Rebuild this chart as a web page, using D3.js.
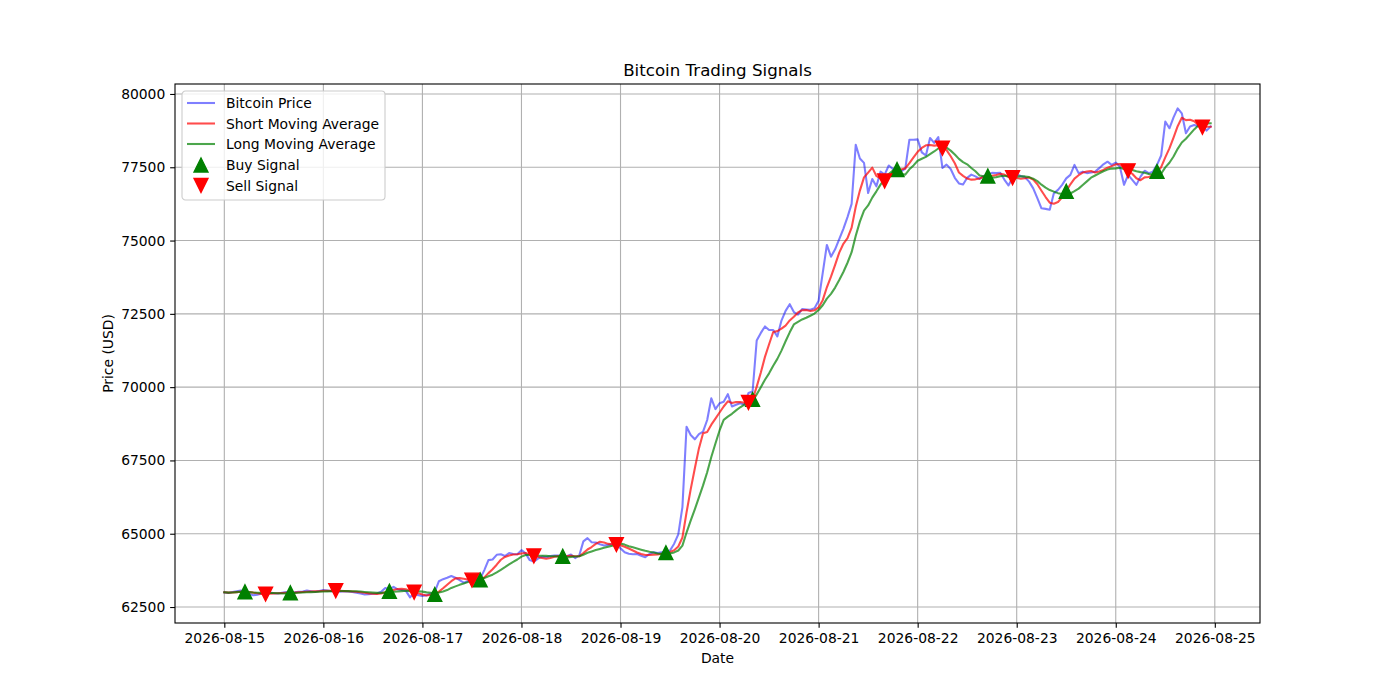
<!DOCTYPE html>
<html><head><meta charset="utf-8">
<script src="https://cdn.jsdelivr.net/npm/d3@7"></script>
<style>
body{margin:0;background:#fff;}
text{font-family:"DejaVu Sans","Liberation Sans",sans-serif;fill:#000;}
</style>
</head><body>
<svg id="chart" width="1400" height="700"></svg>
<script>
// ---------- data ----------
const startDate = "2026-08-15T00:00:00Z";   // hourly observations
const prices = [
63000,62980,63010,63040,63060,63010,62950,62900,62920,62960,
62980,62990,62970,62960,62990,63010,62990,63000,63020,63030,
63060,63040,63020,63050,63080,63060,63040,63050,63020,63040,
63030,63010,62990,62960,62930,62940,62950,62960,63020,63150,
63100,63190,63100,63080,63050,62830,62970,62900,62880,62900,
62950,63020,63380,63450,63500,63560,63500,63420,63330,63380,
63460,63500,63460,63760,64100,64120,64280,64300,64240,64340,
64310,64300,64440,64330,64100,64050,64150,64220,64200,64240,
64260,64260,64200,64230,64290,64170,64260,64740,64850,64710,
64700,64640,64600,64620,64640,64660,64500,64370,64320,64300,
64310,64250,64200,64310,64370,64340,64370,64380,64430,64660,
64980,65910,68650,68370,68220,68400,68480,68880,69620,69250,
69450,69500,69760,69340,69400,69450,69400,69800,69850,71590,
71850,72070,71950,71950,71730,72270,72600,72830,72560,72470,
72660,72650,72640,72690,72950,73900,74850,74450,74700,75050,
75400,75800,76250,78270,77800,77650,76620,77100,76850,77350,
77250,77560,77440,77500,77360,77450,78440,78440,78450,78010,
77900,78500,78330,78530,77480,77590,77440,77140,76950,76910,
77140,77250,77190,77100,77200,77250,77310,77300,77310,77080,
76880,77140,77250,77200,77160,77010,76780,76450,76100,76080,
76050,76610,76730,76900,77120,77240,77580,77300,77350,77300,
77320,77350,77470,77600,77690,77580,77660,77520,76900,77240,
77070,76900,77180,77380,77300,77350,77580,77900,79060,78830,
79200,79510,79340,78660,78890,78940,78900,78940,78750,78890
];
const shortWindow = 5;
const longWindow = 10;
const buyIndex  = [5,16,40,51,62,82,107,128,163,185,204,226];
const sellIndex = [10,27,46,60,75,95,127,160,174,191,219,237];
const xTickLabels = ["2026-08-15","2026-08-16","2026-08-17","2026-08-18","2026-08-19","2026-08-20","2026-08-21","2026-08-22","2026-08-23","2026-08-24","2026-08-25"];
const yTicks = [62500,65000,67500,70000,72500,75000,77500,80000];
const seriesNames = ["Bitcoin Price","Short Moving Average","Long Moving Average","Buy Signal","Sell Signal"];

// ---------- derived ----------
const t0 = new Date(startDate);
const dates = prices.map((_, i) => d3.utcHour.offset(t0, i));
function rollingMean(arr, w){
  return arr.map((_, i) => d3.mean(arr.slice(Math.max(0, i - w + 1), i + 1)));
}
const shortMA = rollingMean(prices, shortWindow);
const longMA = rollingMean(prices, longWindow);

// ---------- layout ----------
const W = 1400, H = 700;
const m = {left:175, right:140, top:84, bottom:77};
const iw = W - m.left - m.right, ih = H - m.top - m.bottom;
const fs = 13.89;

const svg = d3.select("#chart");
const g = svg.append("g").attr("transform", `translate(${m.left},${m.top})`);

const tExt = d3.extent(dates);
const span = tExt[1] - tExt[0];
const x = d3.scaleUtc()
  .domain([new Date(+tExt[0] - 0.05*span), new Date(+tExt[1] + 0.05*span)])
  .range([0, iw]);
const y = d3.scaleLinear().domain([61955, 80340]).range([ih, 0]);

const xTickDates = xTickLabels.map(s => new Date(s + "T00:00:00Z"));

// grid
const grid = g.append("g");
grid.selectAll("line.vx").data(xTickDates).join("line")
  .attr("x1", d => x(d)).attr("x2", d => x(d)).attr("y1", 0).attr("y2", ih)
  .attr("stroke", "#b0b0b0").attr("stroke-width", 1.1);
grid.selectAll("line.hy").data(yTicks).join("line")
  .attr("x1", 0).attr("x2", iw).attr("y1", d => y(d)).attr("y2", d => y(d))
  .attr("stroke", "#b0b0b0").attr("stroke-width", 1.1);

// lines
const clip = svg.append("defs").append("clipPath").attr("id","clipArea")
  .append("rect").attr("width", iw).attr("height", ih);
const plot = g.append("g").attr("clip-path","url(#clipArea)");
const lineGen = vals => d3.line().x((d, i) => x(dates[i])).y(d => y(d))(vals);

plot.append("path").attr("d", lineGen(prices)).attr("fill","none")
  .attr("stroke","#0000ff").attr("stroke-opacity",0.5).attr("stroke-width",2.08)
  .attr("stroke-linejoin","round").attr("stroke-linecap","square");
plot.append("path").attr("d", lineGen(shortMA)).attr("fill","none")
  .attr("stroke","#ff0000").attr("stroke-opacity",0.7).attr("stroke-width",2.08)
  .attr("stroke-linejoin","round").attr("stroke-linecap","square");
plot.append("path").attr("d", lineGen(longMA)).attr("fill","none")
  .attr("stroke","#008000").attr("stroke-opacity",0.7).attr("stroke-width",2.08)
  .attr("stroke-linejoin","round").attr("stroke-linecap","square");

// markers
const ms = 13.89, h2 = ms/2;
const upTri = `M0,${-h2}L${-h2},${h2}L${h2},${h2}Z`;
const downTri = `M0,${h2}L${-h2},${-h2}L${h2},${-h2}Z`;
g.selectAll("path.buy").data(buyIndex).join("path")
  .attr("d", upTri)
  .attr("transform", i => `translate(${x(dates[i])},${y(shortMA[i])})`)
  .attr("fill","#008000").attr("stroke","#008000").attr("stroke-width",1.39).attr("stroke-linejoin","miter");
g.selectAll("path.sell").data(sellIndex).join("path")
  .attr("d", downTri)
  .attr("transform", i => `translate(${x(dates[i])},${y(shortMA[i])})`)
  .attr("fill","#ff0000").attr("stroke","#ff0000").attr("stroke-width",1.39).attr("stroke-linejoin","miter");

// axes
const xAxis = d3.axisBottom(x).tickValues(xTickDates)
  .tickFormat((d, i) => xTickLabels[i]).tickSize(4.86).tickPadding(4.86).tickSizeOuter(0);
const yAxis = d3.axisLeft(y).tickValues(yTicks).tickFormat(d => String(d))
  .tickSize(4.86).tickPadding(4.86).tickSizeOuter(0);
const gx = g.append("g").attr("transform", `translate(0,${ih})`).call(xAxis);
const gy = g.append("g").call(yAxis);
[gx, gy].forEach(a => {
  a.select(".domain").remove();
  a.selectAll(".tick line").attr("stroke","#000").attr("stroke-width",1.1);
  a.selectAll(".tick text").attr("font-size", fs).attr("font-family","DejaVu Sans").attr("fill","#000");
});

// frame
g.append("rect").attr("width", iw).attr("height", ih)
  .attr("fill","none").attr("stroke","#000").attr("stroke-width",1.1);

// title & labels
svg.append("text").attr("x", m.left + iw/2).attr("y", 76).attr("text-anchor","middle")
  .attr("font-size", 16.67).text("Bitcoin Trading Signals");
svg.append("text").attr("x", m.left + iw/2).attr("y", 663).attr("text-anchor","middle")
  .attr("font-size", fs).text("Date");
svg.append("text").attr("transform", `translate(113,${m.top + ih/2}) rotate(-90)`)
  .attr("text-anchor","middle").attr("font-size", fs).text("Price (USD)");

// legend
const lg = svg.append("g").attr("transform","translate(182,91)");
lg.append("rect").attr("width",203).attr("height",109).attr("rx",3.5)
  .attr("fill","#fff").attr("fill-opacity",0.8).attr("stroke","#cccccc").attr("stroke-width",1.1);
const rowY = [12, 32.5, 53, 74, 94.5];
const lineStyles = [["#0000ff",0.5],["#ff0000",0.7],["#008000",0.7]];
seriesNames.forEach((name, k) => {
  const cy = rowY[k];
  if (k < 3) {
    lg.append("line").attr("x1",5).attr("x2",33).attr("y1",cy).attr("y2",cy)
      .attr("stroke", lineStyles[k][0]).attr("stroke-opacity", lineStyles[k][1]).attr("stroke-width",2.08);
  } else {
    const col = k === 3 ? "#008000" : "#ff0000";
    lg.append("path").attr("d", k === 3 ? upTri : downTri)
      .attr("transform", `translate(19,${cy})`)
      .attr("fill", col).attr("stroke", col).attr("stroke-width",1.39);
  }
  lg.append("text").attr("x",44).attr("y",cy).attr("dy","0.36em")
    .attr("font-size", fs).text(name);
});
</script>
</body></html>
